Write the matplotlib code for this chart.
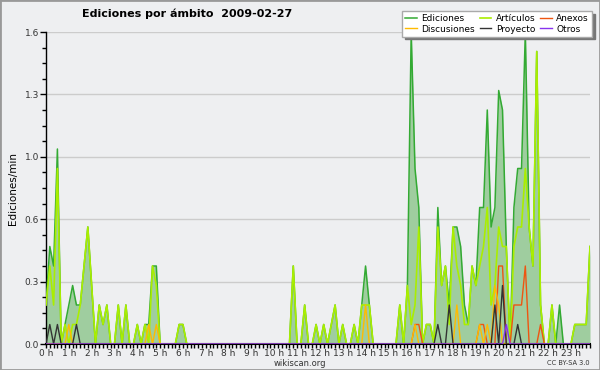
import numpy as np
import matplotlib
matplotlib.use("Agg")
import matplotlib.pyplot as plt
from matplotlib.patches import Rectangle
from matplotlib.ticker import MultipleLocator

# ediciones por minuto, intervalos de 10 min (una fila = una hora)
ediciones = [
    0.2, 0.5, 0.4, 1.0, 0.0, 0.1,
    0.2, 0.3, 0.2, 0.2, 0.4, 0.6,
    0.3, 0.0, 0.2, 0.1, 0.2, 0.0,
    0.0, 0.2, 0.0, 0.2, 0.0, 0.0,
    0.1, 0.0, 0.1, 0.1, 0.4, 0.4,
    0.0, 0.0, 0.0, 0.0, 0.0, 0.1,
    0.1, 0.0, 0.0, 0.0, 0.0, 0.0,
    0.0, 0.0, 0.0, 0.0, 0.0, 0.0,
    0.0, 0.0, 0.0, 0.0, 0.0, 0.0,
    0.0, 0.0, 0.0, 0.0, 0.0, 0.0,
    0.0, 0.0, 0.0, 0.0, 0.0, 0.4,
    0.0, 0.0, 0.2, 0.0, 0.0, 0.1,
    0.0, 0.1, 0.0, 0.1, 0.2, 0.0,
    0.1, 0.0, 0.0, 0.1, 0.0, 0.2,
    0.4, 0.2, 0.0, 0.0, 0.0, 0.0,
    0.0, 0.0, 0.0, 0.2, 0.0, 0.3,
    1.6, 0.9, 0.7, 0.0, 0.1, 0.1,
    0.0, 0.7, 0.3, 0.4, 0.2, 0.6,
    0.6, 0.5, 0.2, 0.1, 0.4, 0.3,
    0.7, 0.7, 1.2, 0.6, 0.7, 1.3,
    1.2, 0.5, 0.0, 0.7, 0.9, 0.9,
    1.6, 0.6, 0.4, 1.5, 0.2, 0.0,
    0.0, 0.2, 0.0, 0.2, 0.0, 0.0,
    0.0, 0.1, 0.1, 0.1, 0.1, 0.5,
]
articulos = [
    0.2, 0.4, 0.2, 0.9, 0.0, 0.1,
    0.0, 0.1, 0.1, 0.2, 0.4, 0.6,
    0.3, 0.0, 0.2, 0.1, 0.2, 0.0,
    0.0, 0.2, 0.0, 0.2, 0.0, 0.0,
    0.1, 0.0, 0.1, 0.0, 0.4, 0.3,
    0.0, 0.0, 0.0, 0.0, 0.0, 0.1,
    0.1, 0.0, 0.0, 0.0, 0.0, 0.0,
    0.0, 0.0, 0.0, 0.0, 0.0, 0.0,
    0.0, 0.0, 0.0, 0.0, 0.0, 0.0,
    0.0, 0.0, 0.0, 0.0, 0.0, 0.0,
    0.0, 0.0, 0.0, 0.0, 0.0, 0.4,
    0.0, 0.0, 0.2, 0.0, 0.0, 0.1,
    0.0, 0.1, 0.0, 0.1, 0.2, 0.0,
    0.1, 0.0, 0.0, 0.1, 0.0, 0.2,
    0.2, 0.2, 0.0, 0.0, 0.0, 0.0,
    0.0, 0.0, 0.0, 0.2, 0.0, 0.3,
    0.1, 0.2, 0.6, 0.0, 0.1, 0.1,
    0.0, 0.6, 0.3, 0.4, 0.1, 0.6,
    0.4, 0.3, 0.1, 0.1, 0.4, 0.3,
    0.4, 0.5, 0.7, 0.2, 0.3, 0.6,
    0.5, 0.5, 0.0, 0.5, 0.6, 0.6,
    0.9, 0.6, 0.4, 1.5, 0.2, 0.0,
    0.0, 0.2, 0.0, 0.0, 0.0, 0.0,
    0.0, 0.1, 0.1, 0.1, 0.1, 0.5,
]
# series pequeñas: intervalo -> valor
disc_idx = [6, 27, 29, 84, 97, 108, 114, 116, 118, 119]
disc_val = [0.1, 0.1, 0.1, 0.2, 0.1, 0.2, 0.1, 0.1, 0.3, 0.2]
anex_idx = [97, 98, 114, 115, 119, 120, 123, 124, 125, 126, 130]
anex_val = [0.1, 0.1, 0.1, 0.1, 0.4, 0.4, 0.2, 0.2, 0.2, 0.4, 0.1]
proy_idx = [1, 3, 8, 103, 106, 118, 120, 124]
proy_val = [0.1, 0.1, 0.1, 0.1, 0.2, 0.2, 0.3, 0.1]
otros_idx = [121]
otros_val = [0.1]

hour_labels = ["%d h" % h for h in range(24)]

n = len(ediciones)
t = np.arange(n) / 6.0


def sparse(idx, val):
    s = np.zeros(n)
    s[idx] = val
    return s


bg = "#eeeff1"
fig = plt.figure(figsize=(6, 3.7), dpi=100, facecolor=bg)
ax = fig.add_axes([46 / 600, 1 - 344 / 370, 544 / 600, 312 / 370], facecolor=bg)

ax.fill_between(t, ediciones, 0, color="#9fcd9f", lw=0, zorder=2)
ax.plot(t, ediciones, color="#33aa33", lw=1.1, label="Ediciones", zorder=3)
ax.plot(t, articulos, color="#aaee00", lw=1.2, label="Artículos", zorder=4)
ax.plot(t, sparse(anex_idx, anex_val), color="#ee5511", lw=1, label="Anexos", zorder=5)
ax.plot(t, sparse(disc_idx, disc_val), color="#ffbb00", lw=1, label="Discusiones", zorder=5)
ax.plot(t, sparse(proy_idx, proy_val), color="#333333", lw=1, label="Proyecto", zorder=6)
ax.plot(t, sparse(otros_idx, otros_val), color="#8833ee", lw=1, label="Otros", zorder=7)

ax.set_xlim(0, t[-1])
ax.set_ylim(0, 1.6)
ax.set_xticks(range(24))
ax.set_xticklabels(hour_labels)
ax.xaxis.set_minor_locator(MultipleLocator(1 / 6))
yt = np.arange(0, 1.61, 0.32)
ax.set_yticks(yt)
ax.set_yticklabels(["%.1f" % v for v in yt])
ax.yaxis.set_minor_locator(MultipleLocator(0.08))
ax.grid(axis="y", color="#cccccc", lw=1, zorder=1)
ax.set_axisbelow(True)

for s in ["top", "right"]:
    ax.spines[s].set_visible(False)
ax.spines["left"].set_linewidth(1)
ax.spines["bottom"].set_linewidth(1.5)
ax.tick_params(which="major", direction="out", length=3, width=1, labelsize=6.5,
               pad=0.5, colors="black", labelcolor="#333333")
ax.tick_params(axis="y", which="major", length=4, pad=1)
ax.tick_params(which="minor", direction="out", length=3, width=1)
ax.set_ylabel("Ediciones/min", fontsize=7.5, labelpad=5)

fig.text(187 / 600, 1 - 14 / 370, "Ediciones por ámbito  2009-02-27",
         fontsize=8, fontweight="bold", va="center", ha="center")
fig.text(300 / 600, 1 - 363 / 370, "wikiscan.org", fontsize=6,
         ha="center", va="center", color="#333333")
fig.text(590 / 600, 1 - 363 / 370, "CC BY-SA 3.0", fontsize=4.8,
         ha="right", va="center", color="#333333")

h, l = ax.get_legend_handles_labels()
order = [0, 3, 1, 4, 2, 5]
leg = fig.legend([h[i] for i in order], [l[i] for i in order], ncol=3,
                 loc="upper right", bbox_to_anchor=(592 / 600, 1 - 11 / 370),
                 fontsize=6.5, frameon=True, fancybox=False,
                 shadow={"color": "#777777", "alpha": 1},
                 handlelength=1.3, handletextpad=0.5, columnspacing=0.5,
                 labelspacing=0.15, borderpad=0.35, borderaxespad=0)
leg.get_frame().set_edgecolor("#aaaaaa")
leg.get_frame().set_linewidth(1)
leg.get_frame().set_alpha(1)

fig.patches.append(Rectangle((0, 0), 1, 1, transform=fig.transFigure, fill=False,
                             edgecolor="#999999", lw=2))

fig.savefig("out.png", dpi=100, facecolor=bg)
